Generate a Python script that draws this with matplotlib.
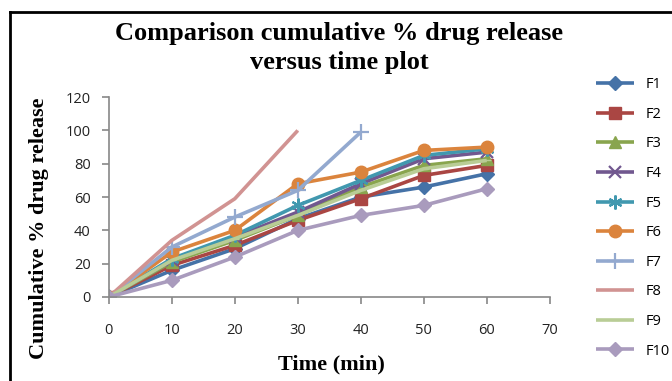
import matplotlib
matplotlib.use("Agg")
import matplotlib.pyplot as plt
from matplotlib.lines import Line2D

time = [0, 10, 20, 30, 40, 50, 60]
F1 = [0, 16, 29, 47, 60, 66, 74]
F2 = [0, 19, 31, 46, 59, 73, 79]
F3 = [0, 21, 34, 49, 66, 79, 83]
F4 = [0, 22, 36, 51, 68, 83, 87]
F5 = [0, 23, 37, 55, 70, 85, 89]
F6 = [0, 27, 40, 68, 75, 88, 90]
F7 = [0, 30, 48, 64, 99]
F8 = [0, 34, 59, 100]
F9 = [0, 22, 35, 49, 64, 77, 82]
F10 = [0, 10, 24, 40, 49, 55, 65]

names = ["F1", "F2", "F3", "F4", "F5", "F6", "F7", "F8", "F9", "F10"]
series = [F1, F2, F3, F4, F5, F6, F7, F8, F9, F10]
colors = ["#4572A7", "#AA4643", "#89A54E", "#71588F", "#4198AF",
          "#DB843D", "#93A9CF", "#D19392", "#B9CD96", "#A99BBD"]
markers = ["D", "s", "^", "x", (6, 2, 0), "o", "+", "_", "_", "D"]
msizes = [7, 8, 8, 9, 10, 9, 11, 0.1, 6, 7]

fig = plt.figure(figsize=(6.72, 3.81), dpi=100)
ax = fig.add_axes([0.162, 0.2205, 0.656, 0.5245])

for name, ys, c, m, ms in zip(names, series, colors, markers, msizes):
    xs = time[:len(ys)]
    mew = 1.6 if m in ("x", "+") or isinstance(m, tuple) else 1
    ax.plot(xs, ys, color=c, lw=2.6, marker=m, markersize=ms,
            markeredgewidth=mew, markerfacecolor=c, markeredgecolor=c,
            label=name, solid_capstyle="butt")

ax.set_xlim(0, 70)
ax.set_ylim(0, 120)
ax.set_xticks(range(0, 71, 10))
ax.set_yticks(range(0, 121, 20))
for s in ("top", "right"):
    ax.spines[s].set_visible(False)
for s in ("left", "bottom"):
    ax.spines[s].set_color("#888888")
    ax.spines[s].set_linewidth(1.2)
ax.tick_params(axis="both", colors="#888888", length=5, width=1.2,
               labelcolor="#222222", labelsize=10.5, pad=8)
ax.tick_params(axis="x", pad=14)
for lab in ax.get_xticklabels() + ax.get_yticklabels():
    lab.set_family("Open Sans")

ax.set_xlabel("Time (min)", family="Liberation Serif", fontweight="bold",
              fontsize=16)
ax.xaxis.set_label_coords(0.505, -0.29)
ax.set_ylabel("Cumulative % drug release", family="Liberation Serif",
              fontweight="bold", fontsize=16)
ax.yaxis.set_label_coords(-0.135, 0.345)

fig.text(0.505, 0.874, "Comparison cumulative % drug release\nversus time plot",
         ha="center", va="center", family="Liberation Serif",
         fontweight="bold", fontsize=19, linespacing=1.35)

leg = ax.legend(loc="upper left", bbox_to_anchor=(1.075, 1.165), frameon=False,
                handlelength=2.6, labelspacing=1.0,
                prop={"family": "Open Sans", "size": 10.5})

# frame lines (left and top)
fig.add_artist(Line2D([0.0149, 0.0149], [0, 0.969], color="black", lw=2,
                      transform=fig.transFigure))
fig.add_artist(Line2D([0.0149, 1.0], [0.969, 0.969], color="black", lw=2,
                      transform=fig.transFigure))

fig.savefig("out.png", dpi=100)
